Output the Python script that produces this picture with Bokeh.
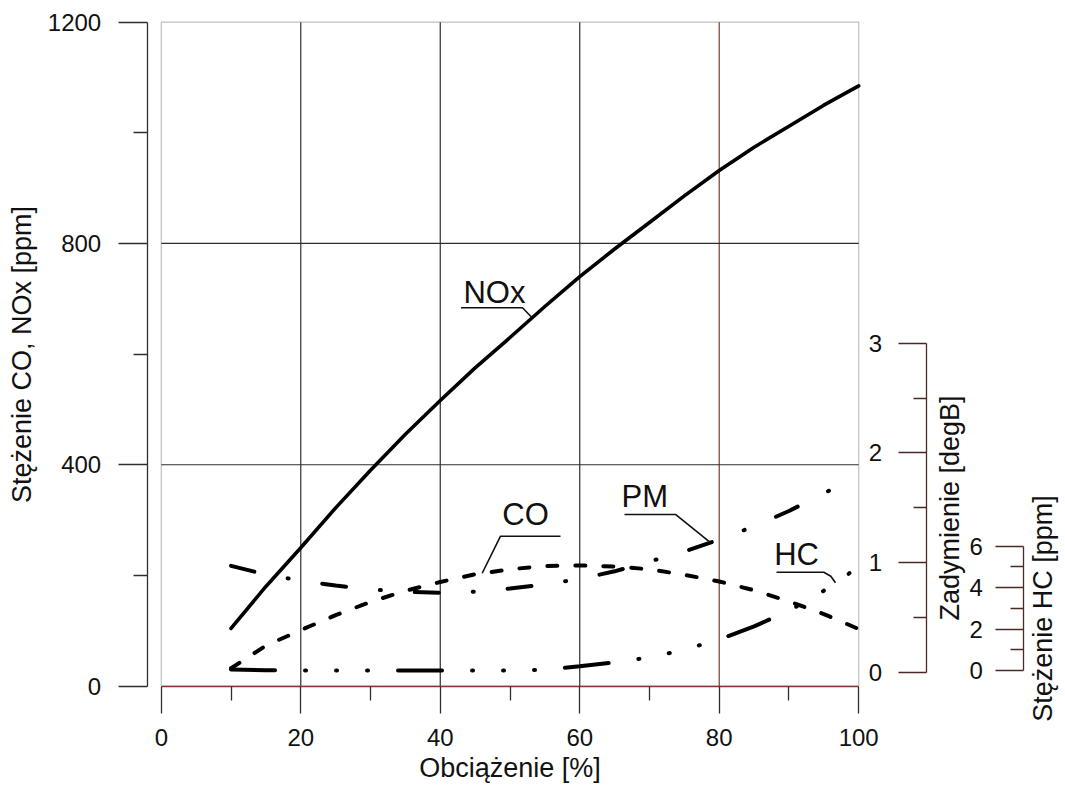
import numpy as np
from bokeh.plotting import figure
from bokeh.models import Range1d, LinearAxis, FixedTicker, BoxAnnotation
from bokeh.core.properties import value
from bokeh.embed import file_html
from bokeh.resources import INLINE

# ---------------- data ----------------
load = [10, 15, 20, 25, 30, 35, 40, 45, 50, 55, 60, 65, 70, 75, 80, 85, 90, 95, 100]
nox = [104, 180, 250, 322, 390, 455, 516, 575, 630, 686, 740, 790, 838, 886, 932, 974, 1012, 1050, 1085]
co = [32, 73, 101, 128, 152, 172, 188, 202, 211, 217, 218, 216, 211, 201, 189, 173, 153, 130, 103]
pm = [0.97, 0.89, 0.835, 0.79, 0.755, 0.733, 0.724, 0.735, 0.763, 0.80, 0.85, 0.92, 1.01, 1.10, 1.21, 1.33, 1.47, 1.63, 1.80]
hc = [0.05, 0.01, 0.0, 0.0, 0.0, 0.0, 0.0, 0.0, 0.0, 0.03, 0.2, 0.39, 0.63, 1.0, 1.5, 2.13, 2.88, 3.85, 5.0]

x_ticks = [0, 20, 40, 60, 80, 100]
x_minor = [10, 30, 50, 70, 90]
ppm_ticks = [0, 400, 800, 1200]
ppm_minor = [200, 600, 1000]
smoke_ticks = [0, 1, 2, 3]
smoke_minor = [0.5, 1.5, 2.5]
hc_ticks = [0, 2, 4, 6]
hc_minor = [1, 3, 5]

# curve labels (text anchor, underline, leader end on curve)
nox_lbl = dict(name="NOx", tx=43.33, ty=690.9, ux=[42.97, 51.79], uy=683.7, ex=53.18)
co_lbl = dict(name="CO", tx=48.90, ty=290.1, ux=[57.24, 48.64], uy=270.8, ex=46.01)
pm_lbl = dict(name="PM", tx=65.99, ty=1.5046, ux=[66.42, 73.73], uy=1.438, ex=78.75)
hc_lbl = dict(name="HC", tx=87.88, ty=5.068, ux=[88.21, 95.0], uy=4.745, mx=96.0, my=4.55, ex=96.67)

# ---------------- geometry (page pixels) ----------------
OFF = 0
W, H = 1064, 786
PX_X0, PX_X100 = 160.8, 858.2
PY_0, PY_1200 = 685.5, 21.7
PY_Z0, PY_Z3 = 671.7, 342.7
PY_H0, PY_H6 = 670.0, 545.7
PX_LEFT_AXIS, PX_Z_AXIS, PX_H_AXIS = 146.7, 925.7, 1023.3
TEXT_LIFT_PX = 11


def lin(p0, p1, v0, v1):
    return lambda px: v0 + (px - p0) * (v1 - v0) / (p1 - p0)


xv = lin(PX_X0, PX_X100, 0, 100)
yv = lin(PY_0, PY_1200, 0, 1200)
zv = lin(PY_Z0, PY_Z3, 0, 3)
hv = lin(PY_H0, PY_H6, 0, 6)
per_px = {None: 1200 / (PY_0 - PY_1200), "zad": 3 / (PY_Z0 - PY_Z3), "hc": 6 / (PY_H0 - PY_H6)}

FONT = "Liberation Sans"
DARK = "#2e2e2e"
RED = "#7e3a2c"

p = figure(width=W, height=H,
           x_range=Range1d(xv(OFF), xv(OFF + W)),
           y_range=Range1d(yv(OFF + H), yv(OFF)),
           x_axis_location=None, y_axis_location=None,
           output_backend="svg", toolbar_location=None,
           min_border=0, outline_line_color=None)
p.extra_y_ranges = {
    "zad": Range1d(zv(OFF + H), zv(OFF)),
    "hc": Range1d(hv(OFF + H), hv(OFF)),
}
p.grid.visible = False


def style_axis(ax, tick_out, minor_out, lab_standoff, title_standoff, title_size="27px", color=DARK):
    ax.major_tick_out = tick_out
    ax.major_tick_in = 0
    ax.minor_tick_out = minor_out
    ax.minor_tick_in = 0
    ax.major_label_standoff = lab_standoff
    ax.axis_label_standoff = title_standoff
    ax.major_label_text_font = FONT
    ax.major_label_text_font_size = "24px"
    ax.major_label_text_color = "#111111"
    ax.axis_label_text_font = FONT
    ax.axis_label_text_font_size = title_size
    ax.axis_label_text_font_style = "normal"
    ax.axis_label_text_color = "#111111"
    ax.axis_line_color = color
    ax.axis_line_width = 1.3
    ax.major_tick_line_color = color
    ax.major_tick_line_width = 1.3
    ax.minor_tick_line_color = color
    ax.minor_tick_line_width = 1.3


# grid / frame
p.segment(x0=x_ticks[1:-1], y0=[ppm_ticks[0]] * 4, x1=x_ticks[1:-1], y1=[ppm_ticks[-1]] * 4,
          line_color=[DARK, DARK, DARK, RED], line_width=1.2)
p.segment(x0=[x_ticks[0]] * 2, y0=ppm_ticks[1:-1], x1=[x_ticks[-1]] * 2, y1=ppm_ticks[1:-1],
          line_color=DARK, line_width=1.2)
p.add_layout(BoxAnnotation(left=x_ticks[0], right=x_ticks[-1], bottom=ppm_ticks[0], top=ppm_ticks[-1],
                           fill_alpha=0, line_color=DARK, line_width=1.2, level="underlay"))

# axes
ax_b = LinearAxis(fixed_location=0, bounds=(0, 100),
                  ticker=FixedTicker(ticks=x_ticks, minor_ticks=x_minor),
                  axis_label="Obciążenie [%]")
style_axis(ax_b, 27, 14, 16, 3)
ax_b.axis_line_color = RED
p.add_layout(ax_b, "below")

ax_l = LinearAxis(fixed_location=xv(PX_LEFT_AXIS), bounds=(0, 1200),
                  ticker=FixedTicker(ticks=ppm_ticks, minor_ticks=ppm_minor),
                  axis_label="Stężenie CO, NOx [ppm]")
style_axis(ax_l, 29, 14, 17, 8)
p.add_layout(ax_l, "left")

ax_z = LinearAxis(y_range_name="zad", fixed_location=xv(PX_Z_AXIS), bounds=(0, 3),
                  ticker=FixedTicker(ticks=smoke_ticks, minor_ticks=smoke_minor),
                  axis_label="Zadymienie [degB]")
style_axis(ax_z, 28, 13, 16, -96, color="#4a2a24")
p.add_layout(ax_z, "left")

ax_h = LinearAxis(y_range_name="hc", fixed_location=xv(PX_H_AXIS), bounds=(0, 6),
                  ticker=FixedTicker(ticks=hc_ticks, minor_ticks=hc_minor),
                  axis_label="Stężenie HC [ppm]")
style_axis(ax_h, 28, 13, 13, -91, color="#4a2a24")
p.add_layout(ax_h, "left")

# curves
p.line(load, nox, line_color="black", line_width=3.6, line_join="round", line_cap="round")
p.line(load, co, line_color="black", line_width=4, line_cap="round", line_dash="10 18")
p.line(load, pm, y_range_name="zad", line_color="black", line_width=4, line_cap="round",
       line_dash="24 34 1 34")
p.line(load, hc, y_range_name="hc", line_color="black", line_width=4, line_cap="round",
       line_dash="44 30 1 30 1 30 1 30")

# labels with leaders
LBL = dict(text_font=value(FONT), text_font_size="31px", text_baseline="alphabetic",
           text_align="left", text_color="#111111")


def leader(lbl, series, rng=None, mid=False):
    xs = list(lbl["ux"]) + ([lbl["mx"]] if mid else []) + [lbl["ex"]]
    ys = [lbl["uy"], lbl["uy"]] + ([lbl["my"]] if mid else []) + [float(np.interp(lbl["ex"], load, series))]
    kw = {"y_range_name": rng} if rng else {}
    p.line(xs, ys, line_color="#111111", line_width=1.6, **kw)
    ty = lbl["ty"] + TEXT_LIFT_PX * per_px[rng]
    p.text(x=[lbl["tx"]], y=[ty], text=[lbl["name"]], **LBL, **kw)


leader(nox_lbl, nox)
leader(co_lbl, co)
leader(pm_lbl, pm, "zad")
leader(hc_lbl, hc, "hc", mid=True)

open("out.html", "w").write(file_html(p, INLINE))
